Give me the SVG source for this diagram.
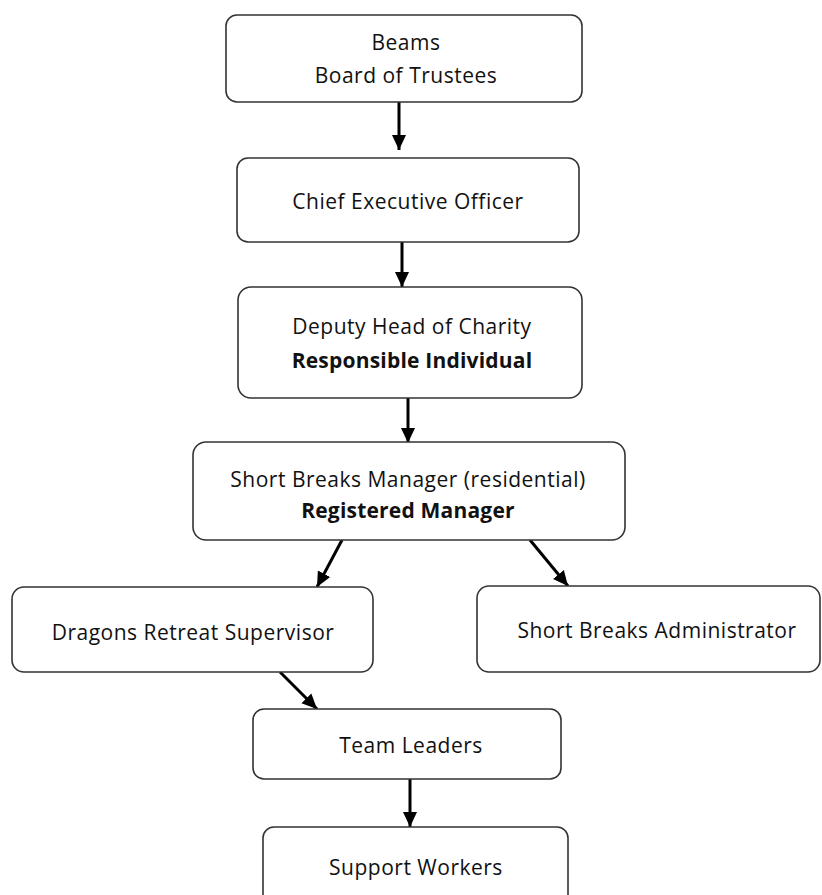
<svg xmlns="http://www.w3.org/2000/svg" width="822" height="895" viewBox="0 0 822 895">
<style>
.box{fill:#fff;stroke:#333;stroke-width:1.6}
text{font-family:"Open Sans","Liberation Sans",sans-serif;font-size:21px;fill:#111;text-anchor:middle;letter-spacing:0.5px}
.b{font-weight:bold;letter-spacing:0.2px}
.c{stroke:#000;stroke-width:3;fill:none;marker-end:url(#ah)}
</style>
<defs>
<marker id="ah" markerUnits="userSpaceOnUse" markerWidth="16" markerHeight="16" viewBox="0 0 16 16" refX="15" refY="8" orient="auto">
<path d="M0,1 L15,8 L0,15 Z" fill="#000"/>
</marker>
</defs>
<rect width="822" height="895" fill="#fff"/>
<g id="connectors">
<line class="c" x1="399" y1="102" x2="399" y2="150"/>
<line class="c" x1="402" y1="242" x2="402" y2="287"/>
<line class="c" x1="408" y1="398" x2="408" y2="443"/>
<line class="c" x1="342" y1="540" x2="317" y2="587"/>
<line class="c" x1="530" y1="540" x2="568" y2="586"/>
<line class="c" x1="280" y1="672" x2="317" y2="709"/>
<line class="c" x1="410" y1="779" x2="410" y2="827"/>
</g>
<g id="trustees">
<rect class="box" x="226" y="15" width="356" height="87" rx="11"/>
<text x="406" y="50">Beams</text>
<text x="406" y="83">Board of Trustees</text>
</g>
<g id="ceo">
<rect class="box" x="237" y="158" width="342" height="84" rx="11"/>
<text x="408" y="209">Chief Executive Officer</text>
</g>
<g id="deputy">
<rect class="box" x="238" y="287" width="344" height="111" rx="13"/>
<text x="412" y="334">Deputy Head of Charity</text>
<text class="b" x="412" y="368">Responsible Individual</text>
</g>
<g id="sbmanager">
<rect class="box" x="193" y="442" width="432" height="98" rx="13"/>
<text x="408" y="487">Short Breaks Manager (residential)</text>
<text class="b" x="408" y="518">Registered Manager</text>
</g>
<g id="dragons">
<rect class="box" x="12" y="587" width="361" height="85" rx="12"/>
<text x="193" y="640">Dragons Retreat Supervisor</text>
</g>
<g id="admin">
<rect class="box" x="477" y="586" width="343" height="86" rx="12"/>
<text x="657" y="638">Short Breaks Administrator</text>
</g>
<g id="teamleaders">
<rect class="box" x="253" y="709" width="308" height="70" rx="11"/>
<text x="411" y="753">Team Leaders</text>
</g>
<g id="support">
<rect class="box" x="263" y="827" width="305" height="90" rx="11"/>
<text x="416" y="875">Support Workers</text>
</g>
</svg>
